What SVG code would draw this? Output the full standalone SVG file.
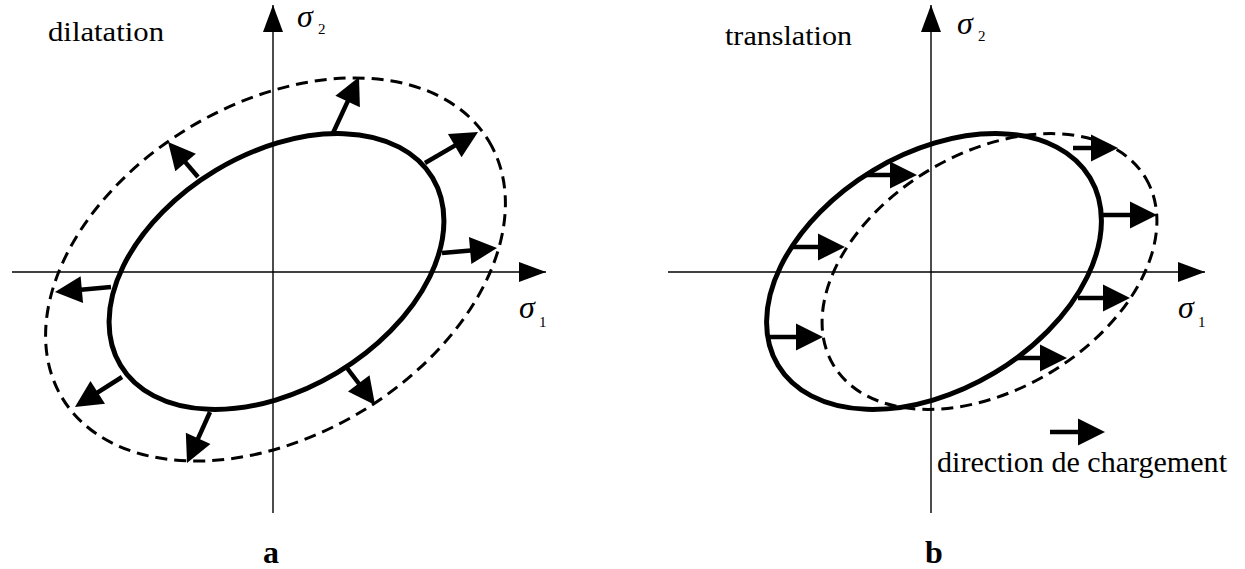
<svg xmlns="http://www.w3.org/2000/svg" width="1245" height="569" viewBox="0 0 1245 569">
<style>
.axis{stroke:#000;stroke-width:1.4;fill:none;marker-end:url(#axh)}
.solid{stroke:#000;stroke-width:5;fill:none}
.dash{stroke:#000;stroke-width:3;fill:none;stroke-dasharray:12 7}
.arr{stroke:#000;stroke-width:4.5;fill:none;marker-end:url(#ah)}
.lbl{font-family:"Liberation Serif","Times New Roman",serif;fill:#000}
.sig{font-family:"Liberation Serif","Times New Roman",serif;font-style:italic;font-size:32px;fill:#000}
.sub{font-family:"Liberation Serif","Times New Roman",serif;font-size:15px;fill:#000}
</style>
<defs>
<marker id="ah" markerUnits="userSpaceOnUse" markerWidth="28" markerHeight="27" refX="12" refY="13.5" orient="auto" overflow="visible">
<path d="M0,0 L27,13.5 L0,27 z" fill="#000"/>
</marker>
<marker id="axh" markerUnits="userSpaceOnUse" markerWidth="28" markerHeight="21" refX="27" refY="10" orient="auto" overflow="visible">
<path d="M0,0 L27,10 L0,20 z" fill="#000"/>
</marker>
</defs>

<g id="panel-a">
<g id="axes-a">
<line class="axis" x1="12" y1="272" x2="546" y2="272"/>
<line class="axis" x1="273" y1="513" x2="273" y2="5"/>
</g>
<g id="curves-a">
<ellipse class="dash" cx="275.5" cy="269.5" rx="249" ry="166" transform="rotate(-31 275.5 269.5)"/>
<ellipse class="solid" cx="276.5" cy="271.5" rx="182" ry="118" transform="rotate(-31 276.5 271.5)"/>
</g>
<g id="connectors-a">
<line class="arr" x1="198" y1="177" x2="177.8" y2="153.4"/>
<line class="arr" x1="333" y1="133" x2="352.7" y2="90.6"/>
<line class="arr" x1="425" y1="163" x2="465.1" y2="139.6"/>
<line class="arr" x1="442" y1="253" x2="482.1" y2="249.4"/>
<line class="arr" x1="111" y1="287" x2="69.9" y2="290.7"/>
<line class="arr" x1="122" y1="377" x2="87.6" y2="398.9"/>
<line class="arr" x1="210" y1="412" x2="193.2" y2="449.3"/>
<line class="arr" x1="347" y1="368" x2="366" y2="393"/>
</g>
<g id="labels-a">
<text class="lbl" x="48" y="41" font-size="28" textLength="116" lengthAdjust="spacingAndGlyphs">dilatation</text>
<text class="sig" x="297" y="27">σ</text><text class="sub" x="318" y="34">2</text>
<text class="sig" x="519" y="318">σ</text><text class="sub" x="539" y="327">1</text>
<text class="lbl" x="271" y="563" font-size="32" font-weight="bold" text-anchor="middle">a</text>
</g>
</g>

<g id="panel-b">
<g id="axes-b">
<line class="axis" x1="668" y1="272" x2="1205" y2="272"/>
<line class="axis" x1="931" y1="513" x2="931" y2="5"/>
</g>
<g id="curves-b">
<ellipse class="dash" cx="989.5" cy="271.5" rx="182" ry="118" transform="rotate(-31 989.5 271.5)"/>
<ellipse class="solid" cx="934" cy="271.5" rx="182" ry="118" transform="rotate(-31 934 271.5)"/>
</g>
<g id="connectors-b">
<line class="arr" x1="865" y1="175" x2="902" y2="175"/>
<line class="arr" x1="793" y1="247" x2="830" y2="247"/>
<line class="arr" x1="766" y1="337" x2="808" y2="337"/>
<line class="arr" x1="1073" y1="148" x2="1103" y2="148"/>
<line class="arr" x1="1102" y1="215" x2="1142" y2="215"/>
<line class="arr" x1="1078" y1="298" x2="1115" y2="298"/>
<line class="arr" x1="1017" y1="358" x2="1052" y2="358"/>
</g>
<g id="legend-b">
<line class="arr" x1="1050" y1="432" x2="1090" y2="432" stroke-width="6"/>
<text class="lbl" x="937" y="472" font-size="30" textLength="290" lengthAdjust="spacingAndGlyphs">direction de chargement</text>
</g>
<g id="labels-b">
<text class="lbl" x="725" y="45" font-size="28" textLength="127" lengthAdjust="spacingAndGlyphs">translation</text>
<text class="sig" x="957" y="34">σ</text><text class="sub" x="978" y="41">2</text>
<text class="sig" x="1178" y="318">σ</text><text class="sub" x="1198" y="327">1</text>
<text class="lbl" x="934" y="563" font-size="32" font-weight="bold" text-anchor="middle">b</text>
</g>
</g>
</svg>
